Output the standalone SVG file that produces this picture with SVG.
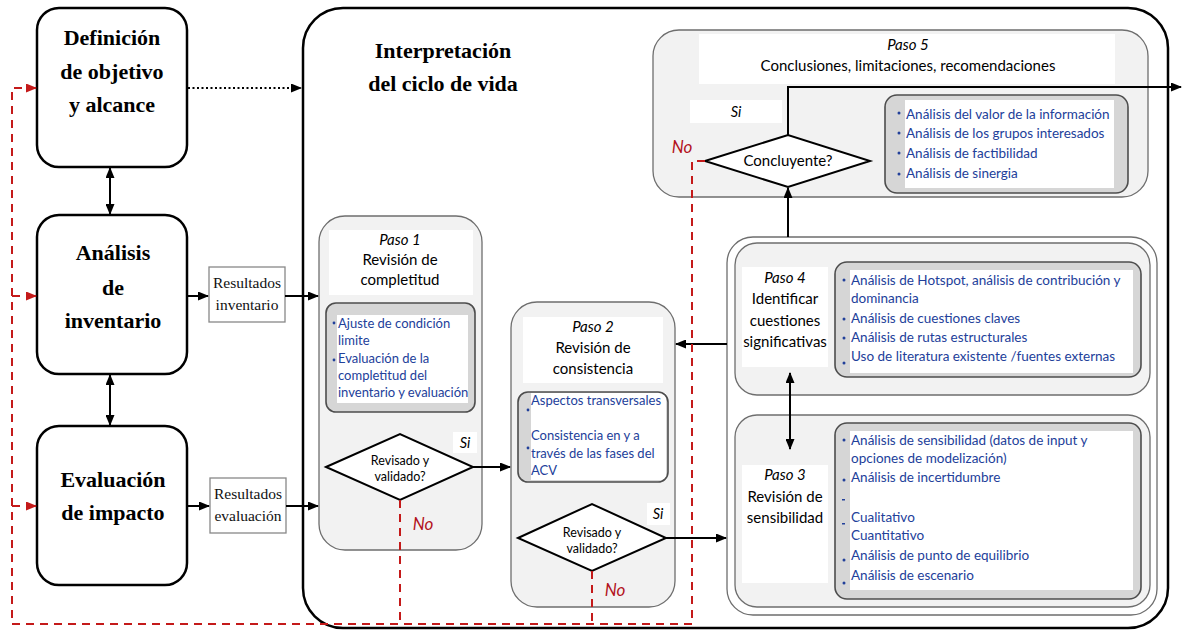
<svg xmlns="http://www.w3.org/2000/svg" width="1182" height="630" viewBox="0 0 1182 630">
<style>
.lb{font-family:"Liberation Serif",serif;font-weight:bold;font-size:22px;text-anchor:middle;fill:#000}
.res{font-family:"Liberation Serif",serif;font-size:15.5px;text-anchor:middle;fill:#111}
.st{font-family:Lato,"Liberation Sans",sans-serif;font-size:15px;text-anchor:middle;fill:#000}
.it{font-style:italic}
.bl{font-family:Lato,"Liberation Sans",sans-serif;font-size:13px;fill:#22409a}
.bw{font-size:13.5px}
.dm{font-family:Lato,"Liberation Sans",sans-serif;font-size:12.5px;text-anchor:middle;fill:#000}
.no{font-family:Lato,"Liberation Sans",sans-serif;font-size:17px;font-style:italic;fill:#b3121c;text-anchor:middle}
.si{font-family:Lato,"Liberation Sans",sans-serif;font-size:14.5px;font-style:italic;fill:#000;text-anchor:middle}
.main{fill:#fff;stroke:#000;stroke-width:2.5}
.box{fill:#f2f2f2;stroke:#6e6e6e;stroke-width:1.3}
.inner{fill:#d6d6d6;stroke:none}
.inb{fill:none;stroke:#4d4d4d;stroke-width:1.6}
.wh{fill:#fff}
.rb{fill:#fff;stroke:#888;stroke-width:1.3}
.dia{fill:#fff;stroke:#000;stroke-width:2}
.blk{stroke:#000;stroke-width:2;fill:none}
.red{stroke:#c41a1a;stroke-width:2;stroke-dasharray:8 6;fill:none}
.dot{fill:#22409a}
</style>
<defs>
<marker id="ah" markerWidth="11" markerHeight="9" refX="10" refY="4.5" orient="auto-start-reverse" markerUnits="userSpaceOnUse"><path d="M0,0 L11,4.5 L0,9 z" fill="#000"/></marker>
<marker id="ahr" markerWidth="11" markerHeight="9" refX="10" refY="4.5" orient="auto" markerUnits="userSpaceOnUse"><path d="M0,0 L11,4.5 L0,9 z" fill="#c41a1a"/></marker>
</defs>
<rect width="1182" height="630" fill="#fff"/>

<g id="interpretacion">
<rect class="main" x="303" y="8" width="865" height="620" rx="40"/>
<text class="lb" x="443" y="58">Interpretación</text>
<text class="lb" x="443" y="91">del ciclo de vida</text>
</g>

<g id="definicion">
<rect class="main" x="37" y="8" width="150" height="159" rx="22"/>
<text class="lb" x="112" y="45">Definición</text>
<text class="lb" x="112" y="79">de objetivo</text>
<text class="lb" x="112" y="112">y alcance</text>
</g>

<g id="analisis">
<rect class="main" x="37" y="215" width="150" height="159" rx="22"/>
<text class="lb" x="113" y="260">Análisis</text>
<text class="lb" x="113" y="295">de</text>
<text class="lb" x="113" y="328">inventario</text>
</g>

<g id="evaluacion">
<rect class="main" x="37" y="426" width="150" height="159" rx="22"/>
<text class="lb" x="113" y="487">Evaluación</text>
<text class="lb" x="113" y="520">de impacto</text>
</g>

<g id="res-inventario">
<rect class="rb" x="209" y="267" width="76" height="55"/>
<text class="res" x="247" y="288">Resultados</text>
<text class="res" x="247" y="310">inventario</text>
</g>

<g id="res-evaluacion">
<rect class="rb" x="210" y="478" width="76" height="55"/>
<text class="res" x="248" y="499">Resultados</text>
<text class="res" x="248" y="521">evaluación</text>
</g>

<g id="paso5">
<rect class="box" x="653" y="30" width="495" height="167" rx="26"/>
<rect class="wh" x="699" y="34" width="416" height="50"/>
<text class="st it" x="908" y="50">Paso 5</text>
<text class="st" x="908" y="71">Conclusiones, limitaciones, recomendaciones</text>
<rect class="wh" x="690" y="100" width="92" height="23"/>
<text class="si" x="736" y="117">Si</text>
<rect class="inner" x="885" y="95" width="243" height="98" rx="12"/>
<rect class="wh" x="905" y="100" width="209" height="88"/>
<rect class="inb" x="885" y="95" width="243" height="98" rx="12"/>
<circle class="dot" cx="899" cy="113" r="1.5"/>
<circle class="dot" cx="899" cy="133" r="1.5"/>
<circle class="dot" cx="899" cy="153" r="1.5"/>
<circle class="dot" cx="899" cy="174" r="1.5"/>
<text class="bl bw" x="906" y="119">Análisis del valor de la información</text>
<text class="bl bw" x="906" y="138">Análisis de los grupos interesados</text>
<text class="bl bw" x="906" y="158">Análisis de factibilidad</text>
<text class="bl bw" x="906" y="178">Análisis de sinergia</text>
<polygon class="dia" points="705,161 788,135 870,161 788,187"/>
<text class="st" x="788" y="166">Concluyente?</text>
<text class="no" x="682" y="153">No</text>
</g>

<g id="paso1">
<rect class="box" x="319" y="216" width="163" height="334" rx="26"/>
<rect class="wh" x="329" y="230" width="144" height="65"/>
<text class="st it" x="400" y="245">Paso 1</text>
<text class="st" x="400" y="265">Revisión de</text>
<text class="st" x="400" y="285">completitud</text>
<rect class="inner" x="326" y="303" width="149" height="109" rx="10"/>
<rect class="wh" x="337" y="315" width="131" height="88"/>
<rect class="inb" x="326" y="303" width="149" height="109" rx="10"/>
<circle class="dot" cx="334" cy="323" r="1.4"/>
<circle class="dot" cx="334" cy="360" r="1.4"/>
<text class="bl" x="338" y="328">Ajuste de condición</text>
<text class="bl" x="338" y="345">limite</text>
<text class="bl" x="338" y="363">Evaluación de la</text>
<text class="bl" x="338" y="380">completitud del</text>
<text class="bl" x="338" y="397">inventario y evaluación</text>
<polygon class="dia" points="326,467 400,434 473,467 400,500"/>
<text class="dm" x="400" y="465">Revisado y</text>
<text class="dm" x="400" y="481">validado?</text>
<rect class="wh" x="453" y="432" width="24" height="21"/>
<text class="si" x="465" y="448">Si</text>
<text class="no" x="423" y="530">No</text>
</g>

<g id="paso2">
<rect class="box" x="511" y="302" width="164" height="305" rx="26"/>
<rect class="wh" x="523" y="317" width="140" height="66"/>
<text class="st it" x="593" y="332">Paso 2</text>
<text class="st" x="593" y="353">Revisión de</text>
<text class="st" x="593" y="374">consistencia</text>
<rect class="inner" x="518" y="392" width="150" height="90" rx="10"/>
<rect class="wh" x="531" y="393" width="135" height="87"/>
<rect class="inb" x="518" y="392" width="150" height="90" rx="10"/>
<circle class="dot" cx="528" cy="410" r="1.4"/>
<circle class="dot" cx="528" cy="448" r="1.4"/>
<text class="bl" x="531" y="405">Aspectos transversales</text>
<text class="bl" x="531" y="440">Consistencia en y a</text>
<text class="bl" x="531" y="458">través de las fases del</text>
<text class="bl" x="531" y="475">ACV</text>
<polygon class="dia" points="518,538 592,504 666,538 592,571"/>
<text class="dm" x="592" y="537">Revisado y</text>
<text class="dm" x="592" y="553">validado?</text>
<rect class="wh" x="647" y="503" width="23" height="22"/>
<text class="si" x="658" y="519">Si</text>
<text class="no" x="615" y="596">No</text>
</g>

<g id="pasos34">
<rect fill="#fff" stroke="#6e6e6e" stroke-width="1.3" x="727" y="237" width="430" height="378" rx="26"/>
</g>

<g id="paso4">
<rect class="box" x="735" y="243" width="415" height="152" rx="22"/>
<rect class="wh" x="742" y="267" width="86" height="100"/>
<text class="st it" x="785" y="283">Paso 4</text>
<text class="st" x="785" y="304">Identificar</text>
<text class="st" x="785" y="326">cuestiones</text>
<text class="st" x="785" y="347">significativas</text>
<rect class="inner" x="835" y="262" width="306" height="115" rx="12"/>
<rect class="wh" x="850" y="270" width="283" height="103"/>
<rect class="inb" x="835" y="262" width="306" height="115" rx="12"/>
<circle class="dot" cx="844" cy="280" r="1.5"/>
<circle class="dot" cx="844" cy="319" r="1.5"/>
<circle class="dot" cx="844" cy="338" r="1.5"/>
<circle class="dot" cx="844" cy="363" r="1.5"/>
<text class="bl bw" x="851" y="285">Análisis de Hotspot, análisis de contribución y</text>
<text class="bl bw" x="851" y="303">dominancia</text>
<text class="bl bw" x="851" y="323">Análisis de cuestiones claves</text>
<text class="bl bw" x="851" y="342">Análisis de rutas estructurales</text>
<text class="bl bw" x="851" y="361">Uso de literatura existente /fuentes externas</text>
</g>

<g id="paso3">
<rect class="box" x="735" y="415" width="415" height="192" rx="22"/>
<rect class="wh" x="742" y="465" width="86" height="118"/>
<text class="st it" x="785" y="480">Paso 3</text>
<text class="st" x="785" y="502">Revisión de</text>
<text class="st" x="785" y="523">sensibilidad</text>
<rect class="inner" x="835" y="423" width="306" height="176" rx="12"/>
<rect class="wh" x="850" y="431" width="283" height="159"/>
<rect class="inb" x="835" y="423" width="306" height="176" rx="12"/>
<circle class="dot" cx="844" cy="440" r="1.5"/>
<circle class="dot" cx="844" cy="480" r="1.5"/>
<rect class="dot" x="842" y="499" width="3" height="1.5"/>
<rect class="dot" x="842" y="523" width="3" height="1.5"/>
<circle class="dot" cx="844" cy="560" r="1.5"/>
<circle class="dot" cx="844" cy="583" r="1.5"/>
<text class="bl bw" x="851" y="445">Análisis de sensibilidad (datos de input y</text>
<text class="bl bw" x="851" y="463">opciones de modelización)</text>
<text class="bl bw" x="851" y="482">Análisis de incertidumbre</text>
<text class="bl bw" x="851" y="522">Cualitativo</text>
<text class="bl bw" x="851" y="540">Cuantitativo</text>
<text class="bl bw" x="851" y="560">Análisis de punto de equilibrio</text>
<text class="bl bw" x="851" y="580">Análisis de escenario</text>
</g>

<g id="connectors">
<line class="blk" x1="110" y1="168" x2="110" y2="214" marker-start="url(#ah)" marker-end="url(#ah)"/>
<line class="blk" x1="110" y1="375" x2="110" y2="425" marker-start="url(#ah)" marker-end="url(#ah)"/>
<line class="blk" x1="188" y1="88" x2="301" y2="88" stroke-dasharray="2 2.5" marker-end="url(#ah)"/>
<line class="blk" x1="187" y1="296" x2="208" y2="296" marker-end="url(#ah)"/>
<line class="blk" x1="285" y1="296" x2="318" y2="296" marker-end="url(#ah)"/>
<line class="blk" x1="187" y1="506" x2="209" y2="506" marker-end="url(#ah)"/>
<line class="blk" x1="286" y1="506" x2="318" y2="506" marker-end="url(#ah)"/>
<line class="blk" x1="473" y1="467" x2="510" y2="467" marker-end="url(#ah)"/>
<line class="blk" x1="666" y1="538" x2="726" y2="538" marker-end="url(#ah)"/>
<line class="blk" x1="727" y1="344" x2="676" y2="344" marker-end="url(#ah)"/>
<line class="blk" x1="790" y1="373" x2="790" y2="449" marker-start="url(#ah)" marker-end="url(#ah)"/>
<line class="blk" x1="788" y1="237" x2="788" y2="188" marker-end="url(#ah)"/>
<polyline class="blk" points="788,135 788,87 1181,87" marker-end="url(#ah)"/>
<polyline class="red" points="705,161 692,161 692,624 12,624 12,88 30,88"/>
<line class="red" x1="30" y1="88" x2="36" y2="88" stroke-dasharray="none" marker-end="url(#ahr)"/>
<polyline class="red" points="12,296 30,296"/>
<line class="red" x1="30" y1="296" x2="36" y2="296" stroke-dasharray="none" marker-end="url(#ahr)"/>
<polyline class="red" points="12,506 30,506"/>
<line class="red" x1="30" y1="506" x2="36" y2="506" stroke-dasharray="none" marker-end="url(#ahr)"/>
<line class="red" x1="400" y1="500" x2="400" y2="624"/>
<line class="red" x1="592" y1="571" x2="592" y2="624"/>
</g>
</svg>
